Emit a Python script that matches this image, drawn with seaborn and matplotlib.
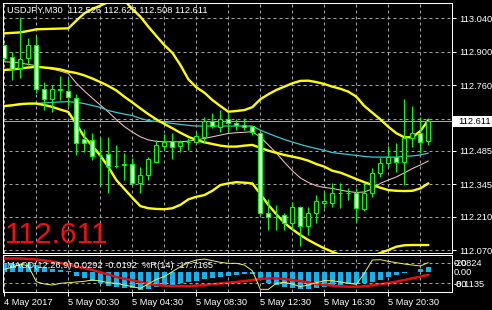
import numpy as np
import pandas as pd
import matplotlib
matplotlib.use("Agg")
import matplotlib.pyplot as plt
from matplotlib.patches import Rectangle
import seaborn as sns

# ---------------- data ----------------
header_text = "USDJPY,M30  112.526 112.623 112.508 112.611"
macd_text = "MACD(12,26,9) 0.0292 -0.0192  %R(14) -17.7165"
last_price = 112.611
last_price_label = "112.611"

open_ = [112.928, 112.877, 112.831, 112.873, 112.928, 112.743, 112.701, 112.742, 112.737, 112.705,
         112.534, 112.531, 112.469, 112.470, 112.422, 112.424, 112.429, 112.352, 112.384, 112.440,
         112.505, 112.526, 112.505, 112.523, 112.523, 112.542, 112.611, 112.586, 112.618, 112.602,
         112.593, 112.589, 112.559, 112.224, 112.207, 112.217, 112.184, 112.251, 112.171, 112.224,
         112.266, 112.266, 112.310, 112.309, 112.307, 112.241, 112.310, 112.391, 112.433, 112.458,
         112.440, 112.538, 112.559, 112.526]
high = [112.932, 112.900, 113.047, 112.956, 112.966, 112.775, 112.761, 112.798, 112.790, 112.722,
        112.577, 112.560, 112.544, 112.543, 112.510, 112.476, 112.455, 112.419, 112.461, 112.531,
        112.554, 112.559, 112.531, 112.539, 112.564, 112.626, 112.642, 112.656, 112.642, 112.617,
        112.621, 112.590, 112.563, 112.284, 112.258, 112.224, 112.272, 112.253, 112.249, 112.300,
        112.314, 112.349, 112.349, 112.328, 112.328, 112.349, 112.412, 112.461, 112.505, 112.519,
        112.701, 112.673, 112.628, 112.623]
low = [112.865, 112.782, 112.790, 112.845, 112.727, 112.656, 112.649, 112.698, 112.673, 112.468,
       112.482, 112.447, 112.342, 112.309, 112.413, 112.363, 112.342, 112.310, 112.363, 112.433,
       112.489, 112.450, 112.482, 112.489, 112.518, 112.517, 112.580, 112.565, 112.565, 112.572,
       112.572, 112.552, 112.217, 112.154, 112.154, 112.154, 112.154, 112.087, 112.133, 112.182,
       112.245, 112.251, 112.245, 112.279, 112.189, 112.235, 112.293, 112.377, 112.419, 112.398,
       112.342, 112.503, 112.475, 112.508]
close = [112.874, 112.827, 112.868, 112.928, 112.743, 112.701, 112.743, 112.739, 112.709, 112.517,
         112.517, 112.464, 112.467, 112.422, 112.420, 112.429, 112.352, 112.384, 112.450, 112.510,
         112.523, 112.503, 112.523, 112.522, 112.547, 112.611, 112.589, 112.617, 112.600, 112.593,
         112.584, 112.563, 112.224, 112.207, 112.210, 112.182, 112.249, 112.171, 112.224, 112.275,
         112.277, 112.310, 112.309, 112.310, 112.245, 112.307, 112.391, 112.433, 112.461, 112.440,
         112.538, 112.561, 112.523, 112.611]

bb_upper = [112.977, 112.979, 112.981, 112.987, 112.994, 112.995, 112.996, 112.997, 112.998, 113.030,
            113.061, 113.079, 113.093, 113.108, 113.121, 113.115, 113.079, 113.047, 113.005, 112.966,
            112.928, 112.896, 112.845, 112.785, 112.751, 112.729, 112.698, 112.673, 112.649, 112.652,
            112.656, 112.668, 112.701, 112.722, 112.740, 112.754, 112.768, 112.778, 112.779, 112.773,
            112.765, 112.754, 112.745, 112.733, 112.712, 112.673, 112.645, 112.617, 112.586, 112.559,
            112.542, 112.542, 112.568, 112.614]
bb_middle = [112.824, 112.826, 112.830, 112.834, 112.837, 112.834, 112.831, 112.826, 112.817, 112.811,
             112.801, 112.788, 112.773, 112.757, 112.738, 112.712, 112.688, 112.663, 112.639, 112.617,
             112.598, 112.580, 112.561, 112.544, 112.531, 112.521, 112.514, 112.507, 112.503, 112.503,
             112.507, 112.510, 112.498, 112.486, 112.477, 112.468, 112.461, 112.454, 112.444, 112.430,
             112.419, 112.402, 112.394, 112.381, 112.367, 112.354, 112.342, 112.331, 112.321, 112.318,
             112.317, 112.318, 112.328, 112.349]
bb_lower = [112.673, 112.676, 112.681, 112.683, 112.683, 112.677, 112.669, 112.658, 112.648, 112.598,
            112.543, 112.506, 112.466, 112.418, 112.363, 112.326, 112.289, 112.254, 112.245, 112.242,
            112.241, 112.245, 112.259, 112.282, 112.293, 112.300, 112.318, 112.342, 112.349, 112.354,
            112.352, 112.349, 112.305, 112.259, 112.220, 112.184, 112.157, 112.133, 112.112, 112.094,
            112.077, 112.063, 112.049, 112.041, 112.037, 112.037, 112.045, 112.058, 112.070, 112.084,
            112.090, 112.091, 112.091, 112.091]
ma_cyan = [112.670, 112.675, 112.678, 112.683, 112.684, 112.686, 112.688, 112.690, 112.691, 112.688,
           112.683, 112.675, 112.667, 112.654, 112.646, 112.639, 112.633, 112.621, 112.612, 112.608,
           112.604, 112.600, 112.596, 112.592, 112.589, 112.589, 112.589, 112.589, 112.589, 112.589,
           112.589, 112.589, 112.572, 112.558, 112.545, 112.533, 112.522, 112.512, 112.503, 112.495,
           112.487, 112.478, 112.474, 112.470, 112.466, 112.462, 112.459, 112.459, 112.459, 112.459,
           112.462, 112.464, 112.468, 112.476]
ma_pink = [112.858, 112.856, 112.853, 112.847, 112.842, 112.833, 112.827, 112.819, 112.809, 112.769,
           112.736, 112.706, 112.677, 112.648, 112.616, 112.587, 112.564, 112.544, 112.531, 112.525,
           112.523, 112.523, 112.523, 112.526, 112.531, 112.537, 112.544, 112.551, 112.558, 112.561,
           112.563, 112.565, 112.543, 112.510, 112.476, 112.438, 112.402, 112.372, 112.353, 112.339,
           112.332, 112.328, 112.321, 112.315, 112.311, 112.313, 112.326, 112.349, 112.363, 112.376,
           112.393, 112.411, 112.426, 112.443]

macd_main = [0.056, 0.050, 0.050, 0.047, 0.040, 0.027, 0.019, 0.012, 0.004, -0.027,
             -0.042, -0.058, -0.073, -0.089, -0.093, -0.099, -0.104, -0.1135, -0.107, -0.098,
             -0.089, -0.083, -0.073, -0.066, -0.056, -0.048, -0.042, -0.031, -0.027, -0.020,
             -0.017, -0.014, -0.042, -0.068, -0.083, -0.093, -0.104, -0.110, -0.110, -0.104,
             -0.098, -0.089, -0.083, -0.076, -0.076, -0.073, -0.062, -0.052, -0.035, -0.023,
             -0.011, -0.002, 0.014, 0.0292]
macd_signal = [0.0824, 0.082, 0.082, 0.079, 0.076, 0.070, 0.063, 0.054, 0.045, 0.032,
               0.023, 0.011, -0.004, -0.017, -0.033, -0.043, -0.053, -0.064, -0.075, -0.083,
               -0.087, -0.089, -0.089, -0.089, -0.087, -0.083, -0.078, -0.073, -0.068, -0.064,
               -0.058, -0.052, -0.045, -0.042, -0.042, -0.045, -0.052, -0.058, -0.066, -0.075,
               -0.081, -0.087, -0.091, -0.093, -0.093, -0.091, -0.084, -0.078, -0.070, -0.062,
               -0.052, -0.041, -0.031, -0.0192]
williams_r = [-38, -32, -22, -28, -75, -82, -85, -80, -78, -76,
              -74, -70, -73, -78, -80, -85, -90, -95, -82, -68,
              -60, -45, -30, -18, -10, -7, -12, -17, -20, -20,
              -25, -42, -98, -98, -80, -77, -82, -90, -85, -78,
              -72, -72, -76, -80, -83, -50, -10, -9, -14, -18,
              -22, -25, -28, -17.7165]

# 112.620 grid level exists but its label is hidden behind the last-price box
price_ticks = [113.040, 112.900, 112.760, 112.620, 112.485, 112.345, 112.210, 112.070]
price_tick_labels = ["113.040", "112.900", "112.760", "", "112.485", "112.345", "112.210", "112.070"]
time_label_bars = [0, 8, 16, 24, 32, 40, 48]
time_labels = ["4 May 2017", "5 May 00:30", "5 May 04:30", "5 May 08:30",
               "5 May 12:30", "5 May 16:30", "5 May 20:30"]
wpr_levels = [-20, -80]
macd_scale_labels = ["0.0824", "0.00", "-0.1135"]
wpr_scale_labels = ["-20", "-80"]

# ---------------- styling ----------------
sns.set_theme(style="dark", rc={"axes.facecolor": "black", "figure.facecolor": "black"})
plt.rcParams["font.family"] = ["Liberation Sans", "DejaVu Sans"]

W, H = 492, 310
fig = plt.figure(figsize=(W / 100, H / 100), dpi=100, facecolor="black")


def px_rect(x0, y0, x1, y1):
    return [x0 / W, 1 - y1 / H, (x1 - x0) / W, (y1 - y0) / H]


LIME = "#00ff00"
GRID = "#a4a4a4"
PX = 0.72  # one pixel in points
FS = 6.7

n = len(close)
bars = np.arange(n)
df = pd.DataFrame({
    "bar": bars, "open": open_, "high": high, "low": low, "close": close,
    "bb_upper": bb_upper, "bb_middle": bb_middle, "bb_lower": bb_lower,
    "ma_cyan": ma_cyan, "ma_pink": ma_pink,
    "macd": macd_main, "signal": macd_signal, "wpr": williams_r,
})

xlim = (-0.1625, 55.96)

# ---------------- main price panel ----------------
ax = fig.add_axes(px_rect(3, 2.7, 452, 252.7))
ax.set_facecolor("black")
ax.set_xlim(*xlim)
ax.set_ylim(112.0589, 113.1053)

for b in range(0, n, 4):
    ax.axvline(b, color=GRID, lw=PX, ls=(0, (3, 3)), zorder=0.5)
for p in price_ticks:
    ax.axhline(p, color=GRID, lw=PX, ls=(0, (3, 3)), zorder=0.5)
ax.axhline(last_price, color="#a8a8a8", lw=PX, zorder=0.6)

sns.lineplot(data=df, x="bar", y="ma_pink", ax=ax, color="#f4c0c8", lw=0.75,
             estimator=None, legend=False, zorder=1)
sns.lineplot(data=df, x="bar", y="ma_cyan", ax=ax, color="#3cc8d0", lw=0.9,
             estimator=None, legend=False, zorder=1)
for col in ["bb_upper", "bb_middle", "bb_lower"]:
    sns.lineplot(data=df, x="bar", y=col, ax=ax, color="#ffff00", lw=1.7,
                 estimator=None, legend=False, zorder=1.2)

# candles
ax.vlines(df["bar"], df["low"], df["high"], color=LIME, lw=PX, zorder=2)
body_lo = np.minimum(df["open"], df["close"])
body_h = np.maximum(np.abs(df["close"] - df["open"]), 0.0006)
body_col = np.where(df["close"] >= df["open"], "black", "white")
ax.bar(df["bar"], body_h, bottom=body_lo, width=0.5, color=body_col,
       edgecolor=LIME, linewidth=PX, zorder=3)

ax.set_xlabel("")
ax.set_ylabel("")
ax.set_xticks([])
ax.yaxis.tick_right()
ax.set_yticks(price_ticks)
ax.set_yticklabels(price_tick_labels)
ax.tick_params(axis="y", colors="white", labelcolor="white", length=3, width=PX,
               pad=2, labelsize=FS, direction="out", right=True, left=False)
ax.grid(False)
for s in ax.spines.values():
    s.set_color("white")
    s.set_linewidth(PX)

# ---------------- MACD + %R panel ----------------
axm = fig.add_axes(px_rect(3, 255, 452, 291.7))
axm.set_facecolor("black")
axm.set_xlim(*xlim)
axm.set_ylim(-0.1242, 0.1037)
for b in range(0, n, 4):
    axm.axvline(b, color=GRID, lw=PX, ls=(0, (3, 3)), zorder=0.5)
axm.bar(df["bar"], df["macd"], width=0.55, color="#12b4ee", linewidth=0, zorder=1)
sns.lineplot(data=df, x="bar", y="signal", ax=axm, color="#e01010", lw=1.8,
             estimator=None, legend=False, zorder=2)
axm.set_xlabel("")
axm.set_ylabel("")
axm.set_yticks([])
axm.set_xticks(time_label_bars)
axm.set_xticklabels(time_labels, ha="left")
axm.tick_params(axis="x", colors="white", labelcolor="white", length=3, width=PX,
                pad=1.5, labelsize=FS, direction="out", bottom=True)
axm.grid(False)
for s in axm.spines.values():
    s.set_color("white")
    s.set_linewidth(PX)

axr = axm.twinx()
axr.set_ylim(-105.1, 5)
for lv in wpr_levels:
    axr.axhline(lv, color=GRID, lw=PX, ls=(0, (3, 3)), zorder=0.5)
sns.lineplot(data=df, x="bar", y="wpr", ax=axr, color="#f2f25a", lw=0.7,
             estimator=None, legend=False, zorder=3)
axr.set_xlim(*xlim)
axr.set_yticks([])
axr.set_ylabel("")
axr.grid(False)
for s in axr.spines.values():
    s.set_visible(False)

# ---------------- texts ----------------
fig.text(7 / W, 1 - 10 / H, header_text, color="white", fontsize=FS, va="center", ha="left")
fig.text(5 / W, 1 - 235 / H, last_price_label, color="#ee1111", fontsize=21.5,
         va="center", ha="left")
fig.text(7 / W, 1 - 265 / H, macd_text, color="white", fontsize=FS, va="center", ha="left")

# price box at the right axis
fig.patches.append(Rectangle((453 / W, 1 - 126.5 / H), 39 / W, 10.5 / H,
                             transform=fig.transFigure, facecolor="white",
                             edgecolor="none", zorder=5))
fig.text(458 / W, 1 - 121.3 / H, last_price_label, color="black", fontsize=FS,
         va="center", ha="left", zorder=6)

# sub-window scale labels (MACD and %R labels print on top of each other, as in the terminal)
macd_label_y = [264, 272.3, 284.3]
for lab, yy in zip(macd_scale_labels, macd_label_y):
    fig.text(454 / W, 1 - yy / H, lab, color="white", fontsize=FS, va="center", ha="left")
for lab, yy in zip(wpr_scale_labels, [264, 284.3]):
    fig.text(454 / W, 1 - yy / H, lab, color="white", fontsize=FS, va="center", ha="left")

fig.savefig("out.png", dpi=100, facecolor="black")
